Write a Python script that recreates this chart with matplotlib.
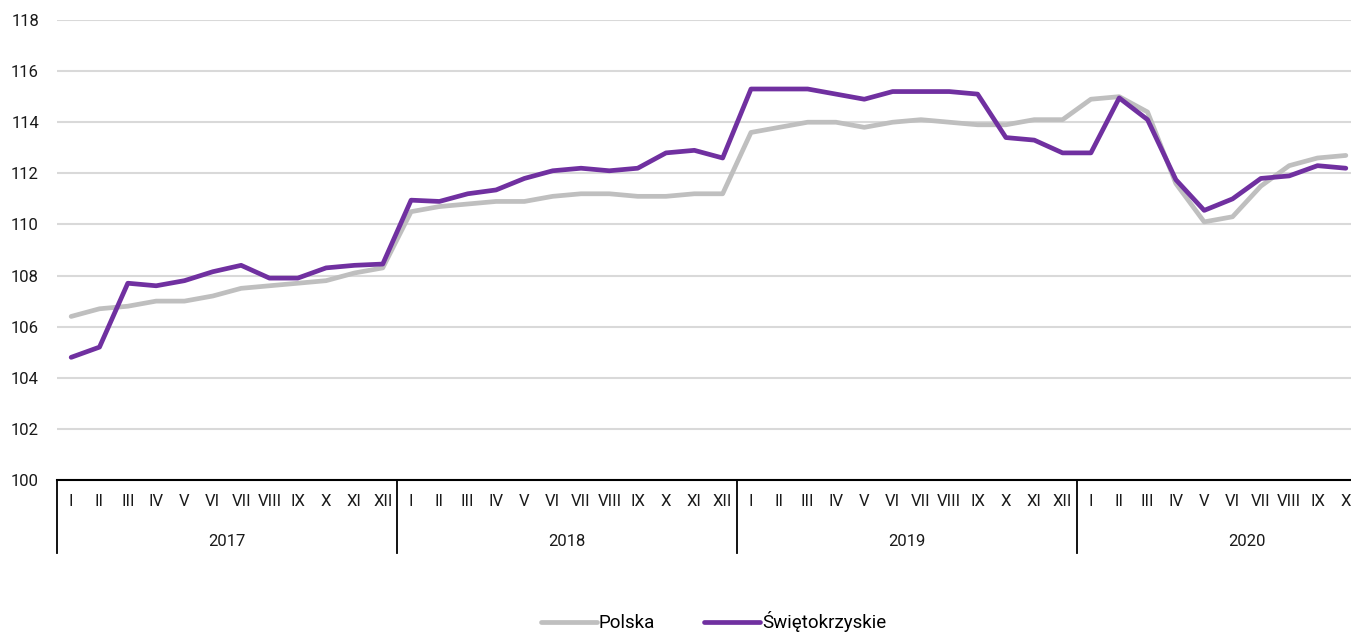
import matplotlib
matplotlib.use('Agg')
import matplotlib.pyplot as plt
import matplotlib.transforms as mtransforms

plt.rcParams['font.family'] = ['Roboto', 'DejaVu Sans']

years = ['2017', '2018', '2019', '2020']
months = ['I', 'II', 'III', 'IV', 'V', 'VI', 'VII', 'VIII', 'IX', 'X', 'XI', 'XII']
months_per_year = [12, 12, 12, 10]

polska = [106.4, 106.7, 106.8, 107.0, 107.0, 107.2, 107.5, 107.6, 107.7, 107.8, 108.1, 108.3,
          110.5, 110.7, 110.8, 110.9, 110.9, 111.1, 111.2, 111.2, 111.1, 111.1, 111.2, 111.2,
          113.6, 113.8, 114.0, 114.0, 113.8, 114.0, 114.1, 114.0, 113.9, 113.9, 114.1, 114.1,
          114.9, 115.0, 114.4, 111.6, 110.1, 110.3, 111.5, 112.3, 112.6, 112.7]
swietokrzyskie = [104.8, 105.2, 107.7, 107.6, 107.8, 108.15, 108.4, 107.9, 107.9, 108.3, 108.4, 108.45,
                  110.95, 110.9, 111.2, 111.35, 111.8, 112.1, 112.2, 112.1, 112.2, 112.8, 112.9, 112.6,
                  115.3, 115.3, 115.3, 115.1, 114.9, 115.2, 115.2, 115.2, 115.1, 113.4, 113.3, 112.8,
                  112.8, 114.95, 114.1, 111.75, 110.55, 111.0, 111.8, 111.9, 112.3, 112.2]

labels = []
for n in months_per_year:
    labels += months[:n]
x = list(range(len(labels)))

fig = plt.figure(figsize=(13.51, 6.35), dpi=100)
W, H = 1351, 635
ax = fig.add_axes([57 / W, 1 - 480 / H, (1360 - 57) / W, 460 / H])

ax.plot(x, polska, color='#BFBFBF', lw=3.4, label='Polska', solid_capstyle='round')
ax.plot(x, swietokrzyskie, color='#7030A0', lw=3.4, label='Świętokrzyskie', solid_capstyle='round')

ax.set_ylim(100, 118)
ax.set_yticks(range(100, 119, 2))
ax.set_xlim(-0.5, len(labels) - 0.5)
ax.grid(axis='y', color='#D9D9D9', lw=1.5)
ax.set_axisbelow(True)
for s in ['left', 'right', 'top']:
    ax.spines[s].set_visible(False)
ax.spines['bottom'].set_color('black')
ax.spines['bottom'].set_linewidth(1.5)
ax.tick_params(axis='both', length=0, labelsize=12, colors='#1a1a1a')
ax.tick_params(axis='y', pad=13)
ax.tick_params(axis='x', pad=10)
ax.set_xticks(x)
ax.set_xticklabels(labels)

trans = mtransforms.blended_transform_factory(ax.transData, ax.transAxes)
start = -0.5
for yr, n in zip(years, months_per_year):
    ax.plot([start, start], [0, -73 / 460], color='black', lw=1.3, transform=trans, clip_on=False)
    ax.text(start + 6, -61 / 460, yr, transform=trans, ha='center', va='center', fontsize=12, color='#1a1a1a')
    start += n

fig.legend(loc='lower center', bbox_to_anchor=(0.528, -0.022), ncol=2, frameon=False,
           fontsize=13.5, handlelength=3.0, handletextpad=0.1, columnspacing=2.6)

fig.savefig('out.png', dpi=100)
